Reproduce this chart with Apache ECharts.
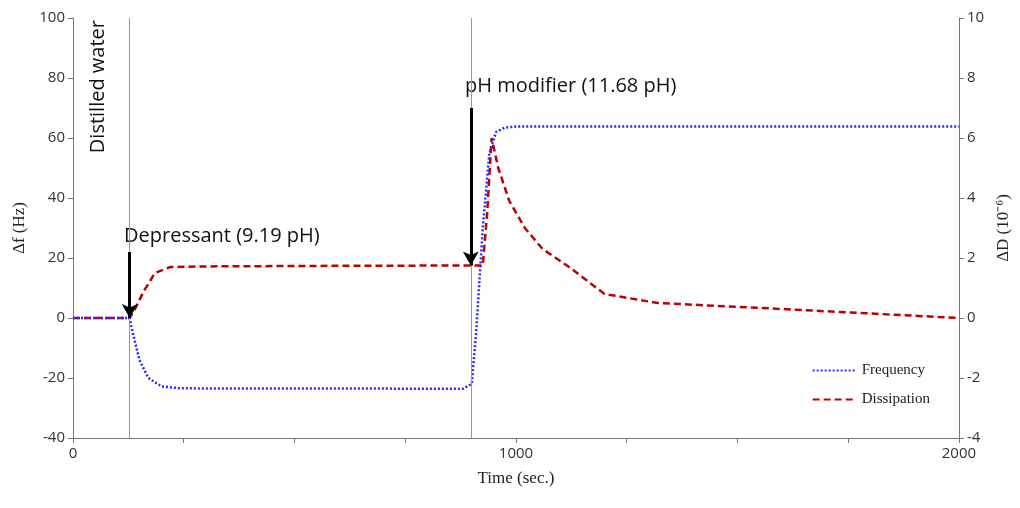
<!DOCTYPE html>
<html>
<head>
<meta charset="utf-8">
<title>QCM-D</title>
<script src="https://cdn.jsdelivr.net/npm/echarts@6/dist/echarts.min.js"></script>
</head>
<body style="margin:0;background:#fff">
<div id="main" style="width:1020px;height:508px"></div>
<script>
// time (sec.) vs frequency shift (Hz)
var freqT = [0, 128, 135, 150, 170, 200, 240, 300, 600, 880, 900, 910, 925, 940, 955, 975, 1000, 1100, 1500, 2000];
var freqV = [0, 0, -5, -14, -20, -22.8, -23.4, -23.5, -23.5, -23.6, -22, -5, 30, 55, 62, 63.5, 63.8, 63.8, 63.8, 63.8];
// time (sec.) vs dissipation (1e-6)
var dissT = [0, 128, 140, 160, 185, 220, 300, 600, 900, 925, 935, 945, 960, 985, 1020, 1060, 1120, 1200, 1320, 1600, 2000];
var dissV = [0, 0, 0.3, 0.9, 1.5, 1.7, 1.72, 1.74, 1.75, 1.75, 3.5, 6.0, 5.0, 3.9, 3.0, 2.3, 1.7, 0.8, 0.5, 0.3, 0];
var eventT = [128, 898];

var serif = 'Liberation Serif';
var sans = 'Open Sans';
var chart = echarts.init(document.getElementById('main'));
chart.setOption({
  animation: false,
  grid: {left: 73, right: 58, top: 18, bottom: 70},
  legend: {
    orient: 'vertical', right: 85, top: 358, itemGap: 14, itemWidth: 44,
    itemStyle: {opacity: 0},
    textStyle: {fontFamily: serif, fontSize: 15, color: '#222'},
    data: ['Frequency', 'Dissipation']
  },
  xAxis: {
    type: 'value', min: 0, max: 2000, interval: 250,
    name: 'Time (sec.)', nameLocation: 'middle', nameGap: 32,
    nameTextStyle: {fontFamily: serif, fontSize: 17, color: '#222'},
    axisLine: {onZero: false, lineStyle: {color: '#777'}},
    axisTick: {lineStyle: {color: '#777'}},
    axisLabel: {fontFamily: sans, fontSize: 15, color: '#333',
      formatter: function (v) { return v % 1000 === 0 ? v : ''; }},
    splitLine: {show: false}
  },
  yAxis: [{
    type: 'value', min: -40, max: 100, interval: 20,
    name: 'Δf (Hz)', nameLocation: 'middle', nameGap: 44,
    nameTextStyle: {fontFamily: serif, fontSize: 17, color: '#222'},
    axisLine: {show: true, lineStyle: {color: '#777'}},
    axisTick: {show: true, lineStyle: {color: '#777'}},
    axisLabel: {fontFamily: sans, fontSize: 15, color: '#333'},
    splitLine: {show: false}
  }, {
    type: 'value', min: -4, max: 10, interval: 2,
    name: 'ΔD (10⁻⁶)', nameLocation: 'middle', nameGap: 34,
    nameTextStyle: {fontFamily: serif, fontSize: 17, color: '#222'},
    axisLine: {show: true, lineStyle: {color: '#777'}},
    axisTick: {show: true, lineStyle: {color: '#777'}},
    axisLabel: {fontFamily: sans, fontSize: 15, color: '#333'},
    splitLine: {show: false}
  }],
  series: [{
    name: 'Frequency', type: 'line', yAxisIndex: 0, symbol: 'none', z: 3,
    color: '#2a2aff',
    lineStyle: {width: 2.5, type: [2, 2]},
    data: freqT.map(function (t, i) { return [t, freqV[i]]; }),
    markLine: {
      silent: true, symbol: 'none', label: {show: false},
      lineStyle: {color: '#999', type: 'solid', width: 1},
      data: eventT.map(function (t) { return {xAxis: t}; })
    }
  }, {
    name: 'Dissipation', type: 'line', yAxisIndex: 1, symbol: 'none', z: 2,
    color: '#c00000',
    lineStyle: {width: 2.5, type: [7, 4]},
    data: dissT.map(function (t, i) { return [t, dissV[i]]; }),
    markLine: {
      silent: true, symbol: ['none', 'arrow'], symbolSize: [12, 14],
      lineStyle: {color: '#000', type: 'solid', width: 3},
      label: {show: false},
      data: [
        [{coord: [eventT[0], 2.2]}, {coord: [eventT[0], 0]}],
        [{coord: [eventT[1], 7.0]}, {coord: [eventT[1], 1.75]}]
      ]
    }
  }],
  graphic: [{
    type: 'text', left: 88, top: 20, rotation: Math.PI / 2,
    style: {text: 'Distilled water', fontFamily: sans, fontSize: 20, fill: '#111'}
  }, {
    type: 'text', left: 124, top: 226,
    style: {text: 'Depressant (9.19 pH)', fontFamily: sans, fontSize: 20, fill: '#111'}
  }, {
    type: 'text', left: 465, top: 76,
    style: {text: 'pH modifier (11.68 pH)', fontFamily: sans, fontSize: 20, fill: '#111'}
  }]
});
</script>
</body>
</html>
